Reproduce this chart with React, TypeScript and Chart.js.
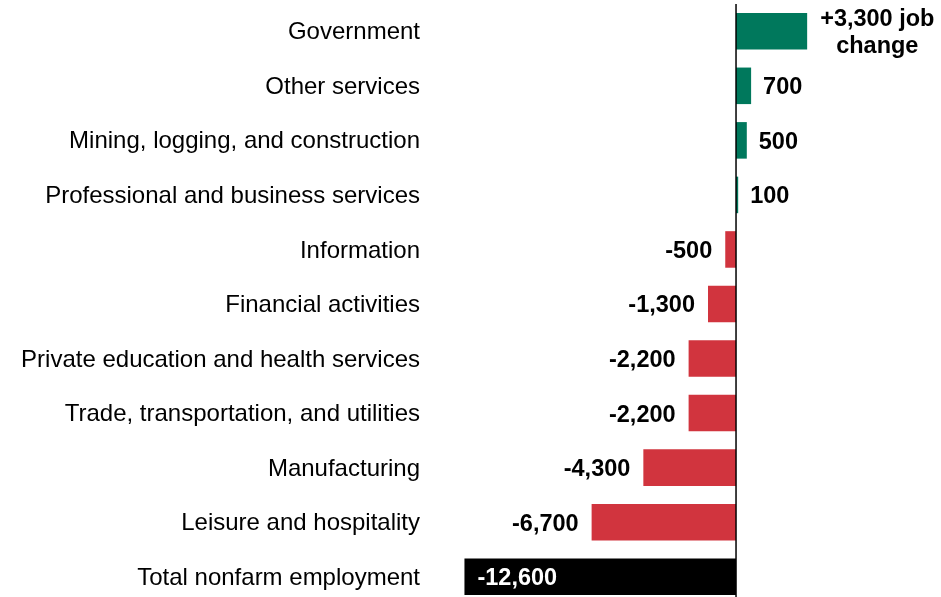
import React, { useEffect, useRef } from "react";
import { Chart, registerables } from "chart.js";

Chart.register(...registerables);

const categories = [
  "Government",
  "Other services",
  "Mining, logging, and construction",
  "Professional and business services",
  "Information",
  "Financial activities",
  "Private education and health services",
  "Trade, transportation, and utilities",
  "Manufacturing",
  "Leisure and hospitality",
  "Total nonfarm employment",
];

const values = [3300, 700, 500, 100, -500, -1300, -2200, -2200, -4300, -6700, -12600];

const valueLabels: string[][] = [
  ["+3,300 job", "change"],
  ["700"],
  ["500"],
  ["100"],
  ["-500"],
  ["-1,300"],
  ["-2,200"],
  ["-2,200"],
  ["-4,300"],
  ["-6,700"],
  ["-12,600"],
];

const GREEN = "#00785C";
const RED = "#D1343E";
const BLACK = "#000000";
const FONT = "'Liberation Sans', Arial, sans-serif";

const barColors = values.map((v, i) =>
  i === values.length - 1 ? BLACK : v >= 0 ? GREEN : RED
);

const labelPlugin = {
  id: "valueLabels",
  afterDatasetsDraw(chart: any) {
    const ctx = chart.ctx;
    const meta = chart.getDatasetMeta(0);
    const xScale = chart.scales.x;
    const zero = xScale.getPixelForValue(0);
    ctx.save();
    // zero line
    ctx.strokeStyle = "#000";
    ctx.lineWidth = 1.5;
    ctx.beginPath();
    ctx.moveTo(zero, chart.chartArea.top);
    ctx.lineTo(zero, chart.height);
    ctx.stroke();

    ctx.font = `bold 23.5px ${FONT}`;
    ctx.textBaseline = "middle";
    meta.data.forEach((bar: any, i: number) => {
      const v = values[i];
      const lines = valueLabels[i];
      const isTotal = i === values.length - 1;
      if (isTotal) {
        ctx.fillStyle = "#fff";
        ctx.textAlign = "left";
        ctx.fillText(lines[0], bar.x + 13, bar.y + 2);
      } else if (v >= 0) {
        ctx.fillStyle = "#000";
        if (lines.length > 1) {
          const w = ctx.measureText(lines[0]).width;
          const cx = bar.x + 13 + w / 2;
          ctx.textAlign = "center";
          const lh = 27;
          const start = bar.y + 2 - ((lines.length - 1) * lh) / 2;
          lines.forEach((l, k) => ctx.fillText(l, cx, start + k * lh));
        } else {
          ctx.textAlign = "left";
          ctx.fillText(lines[0], bar.x + 12, bar.y + 2);
        }
      } else {
        ctx.fillStyle = "#000";
        ctx.textAlign = "right";
        ctx.fillText(lines[0], bar.x - 13, bar.y + 2);
      }
    });
    ctx.restore();
  },
};

export default function App() {
  const ref = useRef<HTMLCanvasElement | null>(null);
  useEffect(() => {
    if (!ref.current) return;
    const chart = new Chart(ref.current, {
      type: "bar",
      data: {
        labels: categories,
        datasets: [
          {
            data: values,
            backgroundColor: barColors,
            borderWidth: 0,
            barPercentage: 0.67,
            categoryPercentage: 1,
          },
        ],
      },
      options: {
        indexAxis: "y",
        responsive: false,
        animation: false,
        layout: { padding: { top: 4, right: 0, bottom: 0, left: 0 } },
        plugins: {
          legend: { display: false },
          tooltip: { enabled: false },
        },
        scales: {
          x: {
            display: false,
            min: -13920,
            max: 9510,
          },
          y: {
            grid: { display: false, drawTicks: false },
            border: { display: false },
            ticks: {
              padding: 16,
              labelOffset: 1.5,
              color: "#000",
              font: { family: FONT, size: 24 },
            },
            afterFit(scale: any) {
              scale.width = 436;
              scale.paddingTop = 0;
              scale.paddingBottom = 0;
            },
          },
        },
      },
      plugins: [labelPlugin],
    });
    return () => chart.destroy();
  }, []);
  return (
    <div style={{ position: "absolute", left: 0, top: 0, width: 941, height: 604, background: "#fff" }}>
      <canvas ref={ref} width={941} height={604} style={{ display: "block" }} />
    </div>
  );
}
